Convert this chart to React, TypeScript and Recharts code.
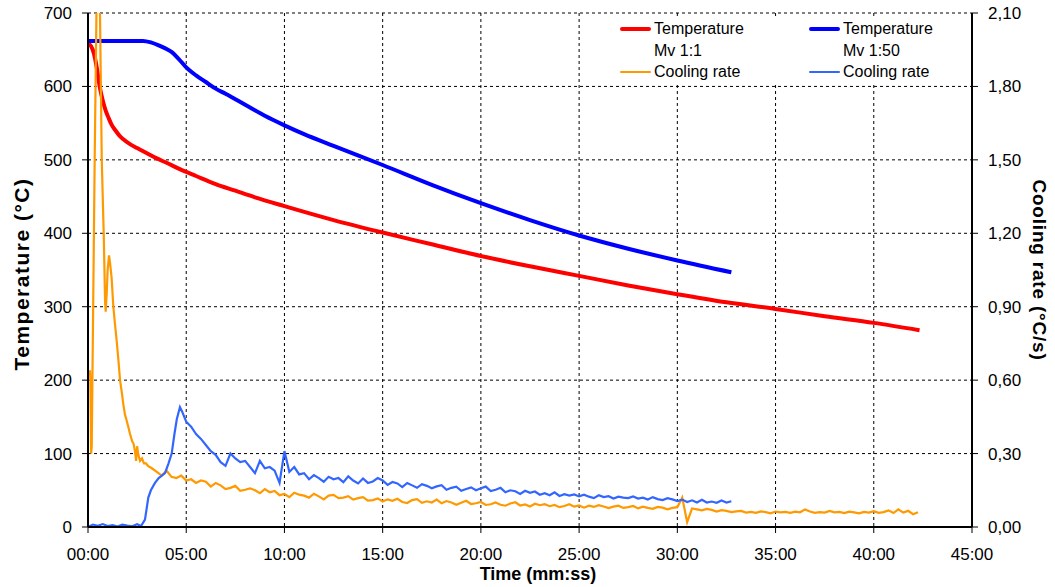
import React from 'react'
import { LineChart, Line, XAxis, YAxis, CartesianGrid, Label } from 'recharts'

// temperature curves (minutes, °C)
const redTimes = [0, 0.15, 0.3, 0.45, 0.6, 0.75, 0.9, 1.05, 1.2, 1.4, 1.6, 1.8, 2.1, 2.5, 3.0, 3.5, 4.0, 4.7, 5.5, 6.5, 7.5, 8.5, 10, 12.5, 15, 17.5, 20, 22.5, 25, 27.5, 30, 32.5, 35, 37.5, 40, 42.33]
const redTemps = [659, 655, 645, 625, 599, 581, 567, 557, 548, 540, 533, 528, 522, 516, 509, 502, 496, 487, 478, 467, 458, 449, 437, 418, 401, 385, 369, 355, 342, 329, 317, 306, 297, 287, 278, 268]

const blueTimes = [0, 1, 2, 2.8, 3.2, 3.6, 4.0, 4.3, 4.6, 5.0, 5.5, 6.0, 6.5, 7.0, 8.0, 9.0, 10.0, 11.0, 12.5, 15, 17.5, 20, 22.5, 25, 27.5, 30, 32.75]
const blueTemps = [662, 662, 662, 662, 660, 656, 651, 646, 638, 626, 615, 606, 597, 590, 575, 560, 547, 535, 519, 493, 466, 441, 418, 397, 379, 363, 347]

// cooling rates (°C/s): irregular start, then samples every 0.25 min
const STEP = 0.25
const orangeHead: [number, number][] = [
  [0.08, 0.62], [0.1, 0.64], [0.12, 0.6], [0.16, 0.3], [0.19, 0.33], [0.34, 1.5], [0.43, 2.1], [0.52, 2.75],
  [0.61, 2.1], [0.7, 1.5], [0.8, 1.2], [0.87, 0.92], [0.9, 0.88], [0.95, 0.95], [1.0, 1.05], [1.07, 1.11],
  [1.12, 1.08], [1.2, 1.02], [1.29, 0.9], [1.36, 0.84], [1.46, 0.76], [1.55, 0.68], [1.63, 0.6], [1.72, 0.55],
  [1.8, 0.5], [1.88, 0.46], [1.95, 0.44], [2.05, 0.41], [2.14, 0.38], [2.25, 0.35], [2.32, 0.34], [2.39, 0.31],
  [2.45, 0.27], [2.5, 0.33], [2.55, 0.3], [2.65, 0.27], [2.75, 0.28], [2.85, 0.26], [2.95, 0.26], [3.05, 0.25],
]
const ORANGE_TAIL_START = 3.25
const orangeTail = [
  0.24, 0.225, 0.21, 0.23, 0.205, 0.2, 0.21, 0.19, 0.195, 0.18,
  0.19, 0.185, 0.165, 0.18, 0.17, 0.155, 0.16, 0.168, 0.148, 0.152,
  0.158, 0.15, 0.138, 0.155, 0.142, 0.147, 0.13, 0.135, 0.122, 0.14,
  0.132, 0.128, 0.12, 0.136, 0.125, 0.113, 0.128, 0.131, 0.118, 0.12,
  0.126, 0.112, 0.118, 0.122, 0.108, 0.11, 0.117, 0.104, 0.113, 0.107,
  0.115, 0.102, 0.098, 0.11, 0.114, 0.099, 0.105, 0.1, 0.112, 0.097,
  0.106, 0.1, 0.091, 0.099, 0.107, 0.094, 0.097, 0.102, 0.09, 0.093,
  0.1, 0.091, 0.087, 0.096, 0.101, 0.088, 0.092, 0.084, 0.095, 0.089,
  0.093, 0.085, 0.09, 0.081, 0.086, 0.093, 0.083, 0.088, 0.079, 0.087,
  0.082, 0.089, 0.084, 0.077, 0.083, 0.087, 0.078, 0.081, 0.086, 0.076,
  0.083, 0.078, 0.074, 0.082, 0.079, 0.072, 0.078, 0.081, 0.12, 0.02,
  0.076, 0.072, 0.068, 0.074, 0.07, 0.063, 0.069, 0.066, 0.061, 0.064,
  0.066, 0.059, 0.062, 0.058, 0.064, 0.061, 0.056, 0.063, 0.06, 0.062,
  0.058, 0.063, 0.06, 0.072, 0.063, 0.058, 0.061, 0.059, 0.066, 0.06,
  0.062, 0.057, 0.063, 0.06, 0.056, 0.062, 0.059, 0.065, 0.058, 0.061,
  0.068, 0.057, 0.072, 0.059, 0.066, 0.052, 0.06,
]

const lightHead: [number, number][] = [
  [0, 0.0], [0.25, 0.01], [0.5, 0.005], [0.75, 0.012], [1.0, 0.004], [1.25, 0.008], [1.5, 0.002], [1.75, 0.01],
  [2.0, 0.006], [2.25, 0.003], [2.5, 0.011], [2.7, 0.004], [2.9, 0.03], [3.07, 0.12], [3.2, 0.15], [3.41, 0.18],
  [3.6, 0.2], [3.92, 0.22], [4.1, 0.26], [4.26, 0.3], [4.4, 0.38], [4.52, 0.44], [4.68, 0.49], [4.8, 0.47], [4.9, 0.45],
]
const LIGHT_TAIL_START = 5.0
const lightTail = [
  0.43, 0.41, 0.38, 0.36, 0.335, 0.31, 0.295, 0.265, 0.25, 0.3,
  0.28, 0.265, 0.27, 0.245, 0.22, 0.27, 0.24, 0.245, 0.23, 0.18,
  0.31, 0.225, 0.245, 0.215, 0.22, 0.195, 0.212, 0.2, 0.185, 0.205,
  0.195, 0.2, 0.183, 0.207, 0.19, 0.178, 0.198, 0.18, 0.186, 0.2,
  0.19, 0.172, 0.184, 0.178, 0.163, 0.18, 0.17, 0.16, 0.175, 0.168,
  0.158, 0.166, 0.171, 0.152, 0.16, 0.165, 0.148, 0.155, 0.162, 0.15,
  0.158, 0.165, 0.147, 0.152, 0.16, 0.142, 0.15, 0.146, 0.135, 0.148,
  0.14, 0.145, 0.132, 0.138, 0.13, 0.142, 0.127, 0.134, 0.128, 0.133,
  0.125, 0.132, 0.124, 0.118, 0.13, 0.122, 0.126, 0.116, 0.124, 0.12,
  0.118, 0.125, 0.116, 0.12, 0.112, 0.122, 0.114, 0.11, 0.118, 0.113,
  0.106, 0.112, 0.102, 0.109, 0.1, 0.111, 0.1, 0.104, 0.099, 0.108,
  0.1, 0.105,
]

const timeTicks = [0, 5, 10, 15, 20, 25, 30, 35, 40, 45]
const tempTicks = [0, 100, 200, 300, 400, 500, 600, 700]
const rateTicks = [0, 0.3, 0.6, 0.9, 1.2, 1.5, 1.8, 2.1]

const RED = '#ff0000'
const BLUE = '#0000ff'
const ORANGE = '#ff9900'
const LIGHT = '#3366ff'
const FONT = '"Liberation Sans", Arial, sans-serif'

const pairs = (ts: number[], vs: number[]) => ts.map((t, i) => ({ t, v: vs[i] }))
const withTail = (head: [number, number][], start: number, tail: number[]) => [
  ...head.map(([t, v]) => ({ t, v })),
  ...tail.map((v, i) => ({ t: start + i * STEP, v })),
]

const redData = pairs(redTimes, redTemps)
const blueData = pairs(blueTimes, blueTemps)
const orangeData = withTail(orangeHead, ORANGE_TAIL_START, orangeTail)
const lightData = withTail(lightHead, LIGHT_TAIL_START, lightTail)

const fmtTime = (v: number) => `${String(v).padStart(2, '0')}:00`
const fmtRate = (v: number) => v.toFixed(2).replace('.', ',')

const tick = { fontFamily: FONT, fontSize: 17, fill: '#000' }
const titleStyle = { fontFamily: FONT, fontWeight: 700, fill: '#000', textAnchor: 'middle' as const }

function LegendBox() {
  const txt: React.CSSProperties = { position: 'absolute', fontFamily: FONT, fontSize: 16, lineHeight: '18px', color: '#000', whiteSpace: 'nowrap' }
  const sw = (left: number, top: number, color: string, h: number): React.CSSProperties => ({
    position: 'absolute', left, top: top - h / 2, width: 31, height: h, background: color, borderRadius: h / 2,
  })
  return (
    <div style={{ position: 'absolute', left: 612, top: 16, width: 356, height: 68, background: '#fff' }}>
      <div style={sw(8, 13, RED, 4)} />
      <div style={{ ...txt, left: 42, top: 4 }}>Temperature</div>
      <div style={{ ...txt, left: 42, top: 26 }}>Mv 1:1</div>
      <div style={sw(8, 56, ORANGE, 2)} />
      <div style={{ ...txt, left: 42, top: 47 }}>Cooling rate</div>
      <div style={sw(197, 13, BLUE, 4)} />
      <div style={{ ...txt, left: 231, top: 4 }}>Temperature</div>
      <div style={{ ...txt, left: 231, top: 26 }}>Mv 1:50</div>
      <div style={sw(197, 56, LIGHT, 2)} />
      <div style={{ ...txt, left: 231, top: 47 }}>Cooling rate</div>
    </div>
  )
}

export default function App() {
  return (
    <div style={{ position: 'absolute', left: 0, top: 0, width: 1055, height: 587, background: '#fff' }}>
      <LineChart width={1055} height={587} margin={{ top: 13, right: 0, bottom: 0, left: 0 }}>
        <CartesianGrid yAxisId="temp" stroke="#000" strokeDasharray="3 3" strokeWidth={1} />
        <XAxis
          dataKey="t"
          type="number"
          domain={[0, 45]}
          ticks={timeTicks}
          tickFormatter={fmtTime}
          tick={tick}
          tickSize={6}
          tickMargin={15}
          height={60}
          axisLine={{ stroke: '#000', strokeWidth: 2 }}
          tickLine={{ stroke: '#000' }}
          allowDuplicatedCategory={false}
        >
          <Label value="Time (mm:ss)" position="insideBottom" offset={7} dx={8} style={{ ...titleStyle, fontSize: 18 }} />
        </XAxis>
        <YAxis
          yAxisId="temp"
          domain={[0, 700]}
          ticks={tempTicks}
          tick={tick}
          tickSize={6}
          tickMargin={10}
          width={88}
          axisLine={{ stroke: '#000', strokeWidth: 2 }}
          tickLine={{ stroke: '#000' }}
        >
          <Label value="Temperature (°C)" angle={-90} position="insideLeft" offset={22} dy={4} style={{ ...titleStyle, fontSize: 21, letterSpacing: 1.5 }} />
        </YAxis>
        <YAxis
          yAxisId="rate"
          orientation="right"
          domain={[0, 2.1]}
          ticks={rateTicks}
          tickFormatter={fmtRate}
          allowDataOverflow
          tick={tick}
          tickSize={6}
          tickMargin={10}
          width={83}
          axisLine={{ stroke: '#000', strokeWidth: 2 }}
          tickLine={{ stroke: '#000' }}
        >
          <Label value="Cooling rate (°C/s)" angle={90} position="insideRight" offset={15} style={{ ...titleStyle, fontSize: 19, letterSpacing: 0.8 }} />
        </YAxis>
        <Line yAxisId="temp" data={redData} dataKey="v" type="monotone" stroke={RED} strokeWidth={4} dot={false} isAnimationActive={false} />
        <Line yAxisId="temp" data={blueData} dataKey="v" type="monotone" stroke={BLUE} strokeWidth={4} dot={false} isAnimationActive={false} />
        <Line yAxisId="rate" data={orangeData} dataKey="v" type="linear" stroke={ORANGE} strokeWidth={2.2} dot={false} isAnimationActive={false} />
        <Line yAxisId="rate" data={lightData} dataKey="v" type="linear" stroke={LIGHT} strokeWidth={2.2} dot={false} isAnimationActive={false} />
      </LineChart>
      <LegendBox />
    </div>
  )
}
